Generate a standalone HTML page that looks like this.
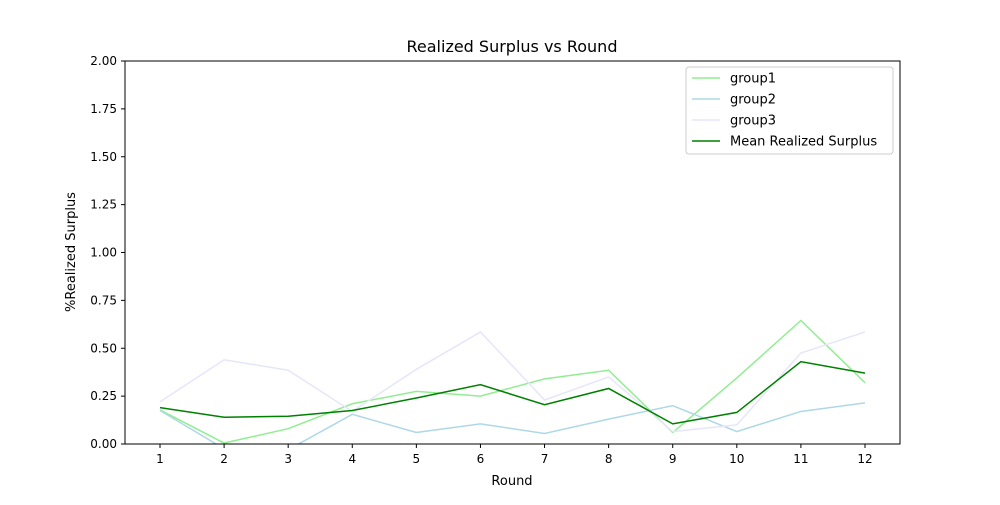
<!DOCTYPE html>
<html><head><meta charset="utf-8"><style>
body{margin:0;background:#fff;font-family:"Liberation Sans","DejaVu Sans",sans-serif}
svg text{font-family:"DejaVu Sans","Liberation Sans",sans-serif;fill:#000}
</style></head><body>
<svg id="chart" width="1000" height="500">
<defs><clipPath id="clip"><rect x="125" y="61" width="775" height="383"/></clipPath></defs>
<text x="512" y="52" font-size="16" text-anchor="middle">Realized Surplus vs Round</text>
<g id="axes"></g>
<g id="lines" clip-path="url(#clip)"></g>
<rect x="125" y="61" width="775" height="383" fill="none" stroke="#000" stroke-width="1"/>
<text x="512" y="485" font-size="13" text-anchor="middle">Round</text>
<text transform="translate(75,252) rotate(-90)" font-size="13" text-anchor="middle">%Realized Surplus</text>
<g id="legend">
<rect x="686" y="67" width="207" height="87" fill="#fff" fill-opacity="0.8" stroke="#ccc" rx="3"/>
</g>
</svg>
<script>
const rounds=[1,2,3,4,5,6,7,8,9,10,11,12];
const group1=[0.178,0.005,0.08,0.21,0.275,0.25,0.34,0.385,0.06,0.345,0.645,0.32];
const group2=[0.175,-0.025,-0.03,0.155,0.06,0.105,0.055,0.13,0.2,0.065,0.17,0.215];
const group3=[0.22,0.44,0.385,0.17,0.39,0.585,0.23,0.35,0.065,0.1,0.475,0.585];
const meanSurplus=[0.19,0.14,0.145,0.175,0.24,0.31,0.205,0.29,0.105,0.165,0.43,0.37];
const yTicks=[0,0.25,0.5,0.75,1.0,1.25,1.5,1.75,2.0];
const ns="http://www.w3.org/2000/svg";
const xs=r=>160+(r-1)*(865-160)/11;
const ys=v=>444-v*(444-61)/2;
function mk(t,a,p){const e=document.createElementNS(ns,t);for(const k in a)e.setAttribute(k,a[k]);p.appendChild(e);return e;}
const axes=document.getElementById('axes');
rounds.forEach(r=>{
 const l=mk('line',{x1:xs(r),x2:xs(r),y1:444,y2:448,stroke:'#000'},axes);
 
 
 const t=mk('text',{x:xs(r),y:463,'font-size':12,'text-anchor':'middle'},axes);t.textContent=r;
 
 
});
yTicks.forEach(v=>{
 const l=mk('line',{x1:121,x2:125,y1:ys(v),y2:ys(v),stroke:'#000'},axes);
 
 
 const t=mk('text',{x:117,y:ys(v)+4,'font-size':12,'text-anchor':'end'},axes);t.textContent=v.toFixed(2);
 
 
});
const series=[[group1,'#90ee90','group1'],[group2,'#add8e6','group2'],[group3,'#e6e6fa','group3'],[meanSurplus,'#008000','Mean Realized Surplus']];
const lines=document.getElementById('lines'),leg=document.getElementById('legend');
series.forEach((s,i)=>{
 const p=mk('polyline',{points:s[0].map((v,j)=>xs(rounds[j])+','+ys(v)).join(' '),fill:'none',stroke:s[1],'stroke-width':1.5},lines);
 
 
 const y=78+i*21;
 const l=mk('line',{x1:692,x2:720,y1:y,y2:y,stroke:s[1],'stroke-width':1.5},leg);
 
 
 const t=mk('text',{x:730,y:y+4.5,'font-size':13},leg);t.textContent=s[2];
 
 
});
</script>
</body></html>
